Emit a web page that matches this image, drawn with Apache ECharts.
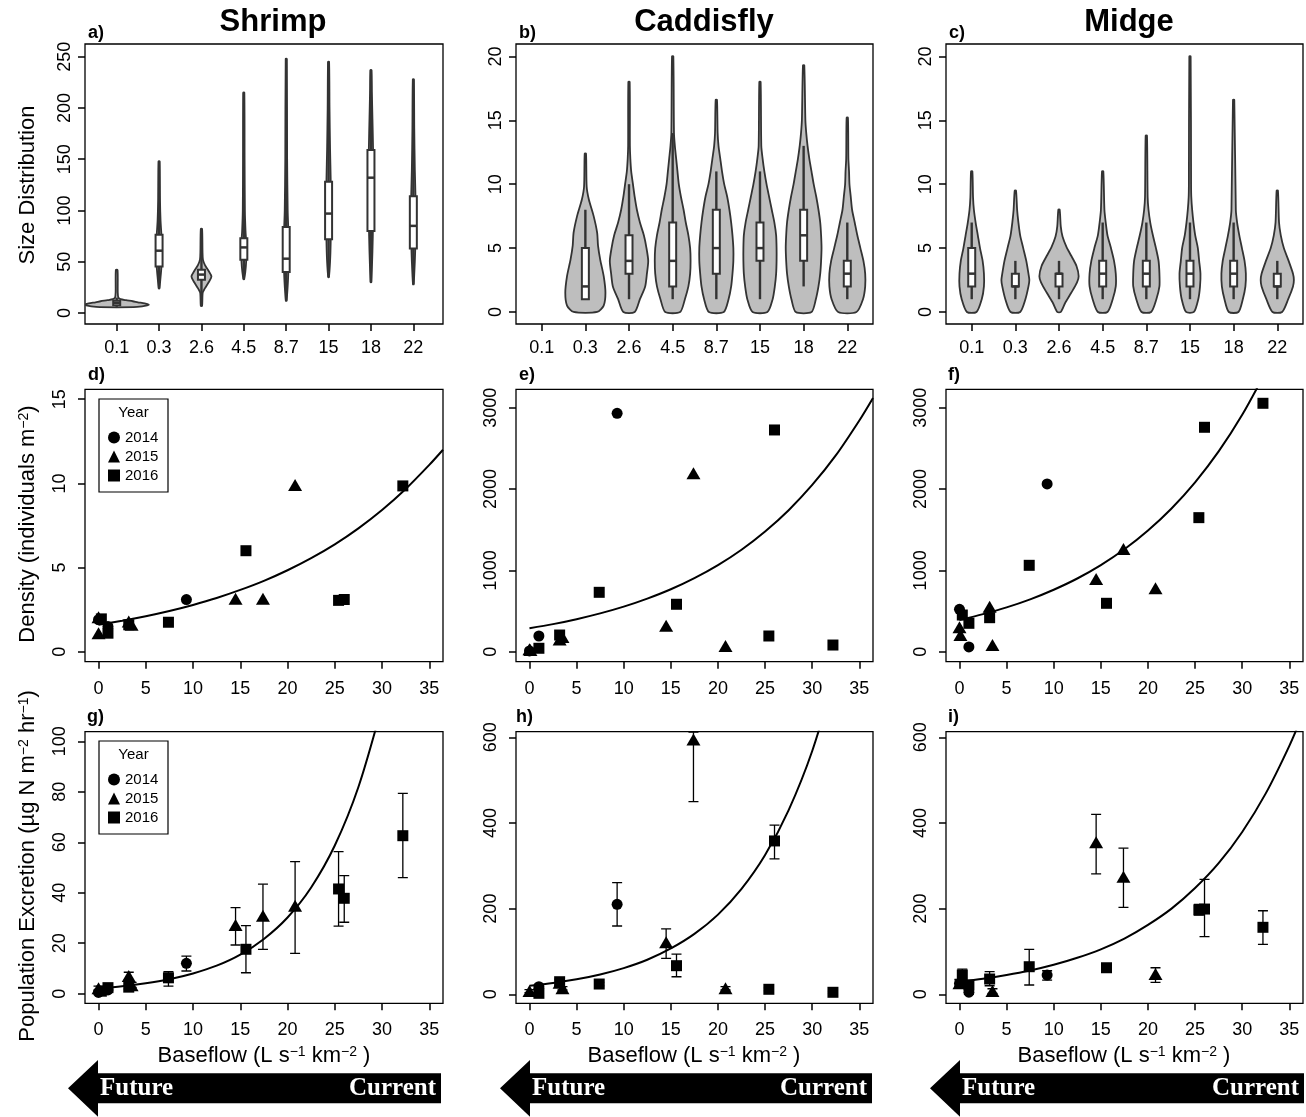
<!DOCTYPE html>
<html><head><meta charset="utf-8">
<script src="https://cdn.jsdelivr.net/npm/echarts@6/dist/echarts.min.js"></script>
<style>html,body{margin:0;padding:0;background:#fff}#c{width:1306px;height:1117px}</style>
</head><body><div id="c"></div>
<script>
// ---------------- DATA ----------------
const sizeClasses = ['0.1','0.3','2.6','4.5','8.7','15','18','22'];
const baseflowTicks = [0,5,10,15,20,25,30,35];

// violin outlines: [value, half-width in category units], bottom -> top
const shrimpShapes = [
  [[5.7,0.40],[6.5,0.60],[7.5,0.72],[8.2,0.755],[9.4,0.66],[10.5,0.5],[11.5,0.38],[12.5,0.22],[13.5,0.09],[15,0.04],[20,0.025],[42,0.02]],
  [[24,0.008],[35,0.035],[45,0.055],[60,0.06],[76,0.055],[90,0.035],[110,0.022],[148,0.012]],
  [[7,0.015],[20,0.03],[24,0.08],[30,0.17],[35.7,0.236],[41,0.17],[47,0.08],[52,0.035],[60,0.025],[82,0.015]],
  [[33,0.008],[40,0.035],[50,0.055],[60,0.06],[70,0.055],[80,0.04],[100,0.025],[150,0.018],[215,0.012]],
  [[12,0.008],[20,0.025],[30,0.04],[40,0.05],[55,0.058],[80,0.05],[100,0.035],[150,0.022],[248,0.012]],
  [[35,0.008],[50,0.035],[70,0.05],[100,0.058],[130,0.05],[160,0.035],[200,0.022],[245,0.012]],
  [[30,0.008],[60,0.035],[90,0.05],[130,0.058],[160,0.05],[190,0.035],[215,0.022],[237,0.012]],
  [[28,0.008],[50,0.035],[70,0.05],[90,0.058],[115,0.05],[140,0.035],[180,0.022],[228,0.012]]
];
// [whisker low, q1, median, q3, whisker high]
const shrimpBoxes = [[6,7.5,10,12,15],[24,45.5,60.8,76.4,148],[7,32.5,37.5,42.2,82],[33,52,64,73,215],
  [12,40,53,84,248],[35,72,97,128,245],[30,80,132,159,237],[28,63,85,114,228]];

const caddisShapes = [
  null,
  [[0,0.27],[0.5,0.42],[1.5,0.46],[2.8,0.42],[4.1,0.34],[5.2,0.29],[6.2,0.27],[7.5,0.19],[8.8,0.08],[9.8,0.03],[12.4,0.015]],
  [[0,0.13],[1,0.25],[2,0.37],[3,0.41],[4,0.44],[5,0.40],[6,0.34],[7,0.25],[8,0.18],[9,0.13],[10,0.09],[11,0.05],[12,0.03],[13,0.02],[18,0.015]],
  [[0,0.17],[1,0.28],[2,0.36],[3,0.40],[4,0.41],[5,0.40],[6,0.36],[7,0.30],[8,0.25],[9,0.19],[10,0.14],[11,0.11],[12,0.08],[13,0.05],[14,0.03],[20,0.015]],
  [[0,0.17],[1,0.28],[2,0.34],[3,0.37],[4,0.39],[5,0.39],[6,0.37],[7,0.34],[8,0.30],[9,0.25],[10,0.18],[11,0.13],[12,0.09],[13,0.05],[14,0.03],[16.6,0.015]],
  [[0,0.17],[1,0.29],[2,0.34],[3,0.37],[4,0.38],[5,0.38],[6,0.37],[7,0.33],[8,0.27],[9,0.21],[10,0.15],[11,0.10],[12,0.06],[13,0.03],[18,0.015]],
  [[0,0.18],[1,0.28],[2,0.34],[3,0.38],[4,0.40],[5,0.41],[6,0.40],[7,0.38],[8,0.34],[9,0.29],[10,0.23],[11,0.18],[12,0.13],[13,0.09],[14,0.06],[15,0.04],[19.3,0.015]],
  [[0,0.21],[1,0.36],[2,0.41],[3,0.41],[4,0.37],[5,0.30],[6,0.23],[7,0.17],[8,0.11],[9,0.08],[10,0.05],[11,0.04],[12,0.025],[15.2,0.015]]
];
const caddisBoxes = [null,[1,1,2,5,8],[1,3,4,6,10],[1,2,4,7,14],[1,3,5,8,11],[1,4,5,7,11],[2,4,6,8,13],[1,2,3,4,7]];

const midgeShapes = [
  [[0,0.11],[1,0.23],[2,0.28],[3,0.28],[4,0.25],[5,0.19],[6,0.14],[7,0.09],[8,0.05],[9,0.03],[11,0.015]],
  [[0,0.11],[1,0.23],[2,0.30],[2.5,0.32],[3,0.30],[4,0.25],[5,0.18],[6,0.11],[7,0.07],[8,0.04],[9.5,0.015]],
  [[0,0.04],[0.7,0.14],[1.5,0.28],[2.3,0.41],[2.8,0.45],[3.6,0.40],[4.4,0.28],[5.1,0.17],[5.9,0.08],[6.7,0.04],[8,0.015]],
  [[0,0.11],[1,0.23],[2,0.30],[3,0.30],[4,0.26],[5,0.19],[6,0.11],[7,0.07],[8,0.04],[11,0.015]],
  [[0,0.11],[1,0.23],[2,0.30],[3,0.30],[4,0.28],[5,0.22],[6,0.15],[7,0.09],[8,0.05],[9,0.03],[13.8,0.015]],
  [[0,0.09],[1,0.19],[2,0.23],[3,0.24],[4,0.21],[5,0.18],[6,0.12],[7,0.08],[8,0.05],[9,0.03],[10,0.025],[20,0.015]],
  [[0,0.11],[1,0.21],[2,0.27],[3,0.28],[4,0.25],[5,0.19],[6,0.13],[7,0.08],[8,0.05],[16.6,0.015]],
  [[0,0.11],[1,0.25],[2,0.36],[2.5,0.38],[3,0.36],[4,0.26],[5,0.15],[6,0.08],[7,0.04],[9.5,0.015]]
];
const midgeBoxes = [[1,2,3,5,7],[1,2,2,3,4],[1,2,3,3,4],[1,2,3,4,7],[1,2,3,4,7],[1,2,3,4,7],[1,2,3,4,7],[1,2,2,3,4]];

// Density [baseflow, density]
const shrimpDens2014 = [[0,1.9],[1.0,1.5],[9.3,3.1]];
const shrimpDens2015 = [[0,2.05],[0,1.1],[3.2,1.8],[3.5,1.6],[14.5,3.15],[17.4,3.15],[20.8,9.9]];
const shrimpDens2016 = [[0.3,1.95],[1.0,1.1],[3.2,1.6],[7.4,1.75],[15.6,6.0],[25.4,3.05],[26.0,3.1],[32.2,9.85]];
const caddisDens2014 = [[0,10],[1.0,193],[9.3,2931]];
const caddisDens2015 = [[0,30],[0.1,20],[3.2,150],[3.5,180],[14.5,320],[17.4,2193],[20.8,70]];
const caddisDens2016 = [[1.0,42],[3.2,205],[7.4,730],[15.6,583],[25.4,193],[26.0,2726],[32.2,82]];
const midgeDens2014 = [[0,521],[1.0,58],[9.3,2062]];
const midgeDens2015 = [[0,300],[0.1,205],[3.2,553],[3.5,82],[14.5,894],[17.4,1263],[20.8,780]];
const midgeDens2016 = [[0.3,451],[1.0,349],[3.2,418],[7.4,1062],[15.6,595],[25.4,1648],[26.0,2759],[32.2,3054]];

// Excretion [baseflow, mean, lower, upper]
const shrimpExc2014 = [[0,0.5,0,1],[1.0,1.5,1,2],[9.3,12.05,9.0,14.9]];
const shrimpExc2015 = [[0,2.2,1.5,3],[3.2,7.0,5.5,8.5],[3.5,3.4,2.5,4.5],[14.5,27.2,19.3,34.1],[17.4,30.9,17.6,43.4],[20.8,34.8,16.0,52.3]];
const shrimpExc2016 = [[0.3,1.0,0.5,1.5],[1.0,2.4,1.5,3.3],[3.2,2.6,1.8,3.4],[7.4,6.3,3.0,8.7],[15.6,17.6,8.3,27.0],[25.4,41.5,26.8,56.3],[26.0,37.8,28.3,46.8],[32.2,62.6,46.0,79.4]];
const caddisExc2014 = [[1.0,17.7,12,23],[9.3,210,159.5,260.6]];
const caddisExc2015 = [[0,7.7,4,11],[3.2,27,20,34],[3.5,14,10,18],[14.5,121.4,84,152.5],[17.4,595,449.7,612],[20.8,14,10,18]];
const caddisExc2016 = [[1.0,2.3,0,5],[3.2,29.4,22,36],[7.4,24,20,28],[15.6,66.8,41,94],[25.4,11.7,8,15],[26.0,358,316,395],[32.2,4.7,2,7]];
const midgeExc2014 = [[0,25,15,35],[1.0,5,0,12],[9.3,45,33,55]];
const midgeExc2015 = [[0,25.7,18,33],[3.5,7.7,2,13],[14.5,355,281,420],[17.4,274.6,203,341],[20.8,47.4,28,62]];
const midgeExc2016 = [[0.3,45,30,59],[1.0,21.7,12,30],[3.2,35.7,20,53],[7.4,64.4,21.7,105],[15.6,62,54,70],[25.4,197,185,210],[26.0,199,134.5,268.5],[32.2,156.4,116.7,195]];

// Fitted exponential curves
const shrimpDensFit = [[0,1.6],[2.5,1.84],[5,2.11],[7.5,2.42],[10,2.78],[12.5,3.19],[15,3.67],[17.5,4.21],[20,4.84],[22.5,5.56],[25,6.38],[27.5,7.33],[30,8.42],[32.5,9.67],[35,11.1],[36.45,12.0]];
const caddisDensFit = [[0,288],[2.5,339],[5,400],[7.5,471],[10,554],[12.5,653],[15,768],[17.5,905],[20,1065],[22.5,1254],[25,1478],[27.5,1740],[30,2050],[32.5,2413],[35,2843],[36.45,3120]];
const midgeDensFit = [[0,390],[2.5,462],[5,545],[7.5,644],[10,762],[12.5,900],[15,1065],[17.5,1259],[20,1490],[22.5,1761],[25,2082],[27.5,2462],[30,2912],[32.5,3443]];
const shrimpExcFit = [[0,2.1],[2.5,2.93],[5,4.1],[7.5,5.72],[10,8.0],[12.5,11.1],[15,15.5],[17.5,21.7],[20,30.2],[22.5,42.1],[25,58.7],[27.5,81.9],[30,114]];
const caddisExcFit = [[0,20],[2.5,26.4],[5,34.9],[7.5,46.2],[10,61.1],[12.5,80.6],[15,107],[17.5,141],[20,186],[22.5,246],[25,325],[27.5,430],[30,568],[32.5,751]];
const midgeExcFit = [[0,29.4],[2.5,36.3],[5,45],[7.5,55.6],[10,68.8],[12.5,85.2],[15,105],[17.5,130],[20,162],[22.5,200],[25,248],[27.5,306],[30,379],[32.5,469],[35,580],[36.45,655]];

const years = ['2014','2015','2016'];

// ---------------- LAYOUT ----------------
const FONT = 'Liberation Sans, Arial, sans-serif';
const colLeft = [85, 516, 946], colWidth = [358, 357, 357];
const rowTop = [44, 389.3, 731.7], rowHeight = [280, 272.4, 271.6];

const panels = [
  {x:[0.252,8.70], y:[-10.7,262.4], yt:[0,50,100,150,200,250], cat:true},
  {x:[0.411,8.589], y:[-0.94,20.97], yt:[0,5,10,15,20], cat:true},
  {x:[0.411,8.589], y:[-0.94,20.97], yt:[0,5,10,15,20], cat:true},
  {x:[-1.43,36.45], y:[-0.594,15.59], yt:[0,5,10,15]},
  {x:[-1.43,36.45], y:[-123,3226], yt:[0,1000,2000,3000]},
  {x:[-1.43,36.45], y:[-123,3226], yt:[0,1000,2000,3000]},
  {x:[-1.43,36.45], y:[-3.8,103.8], yt:[0,20,40,60,80,100]},
  {x:[-1.43,36.45], y:[-21,613], yt:[0,200,400,600]},
  {x:[-1.43,36.45], y:[-21,613], yt:[0,200,400,600]}
];

const grids = [], xAxes = [], yAxes = [], series = [];
panels.forEach((p, i) => {
  const r = Math.floor(i / 3), c = i % 3;
  grids.push({left: colLeft[c], top: rowTop[r], width: colWidth[c], height: rowHeight[r],
    show: true, borderColor: '#000', borderWidth: 1.3, backgroundColor: 'transparent', containLabel: false});
  const xt = p.cat ? [1,2,3,4,5,6,7,8] : baseflowTicks;
  xAxes.push({type: 'value', gridIndex: i, min: p.x[0], max: p.x[1], position: 'bottom',
    axisLine: {show: false, onZero: false}, splitLine: {show: false},
    axisTick: {show: true, inside: false, length: 7, customValues: xt, lineStyle: {color: '#000', width: 1.5}},
    axisLabel: {customValues: xt, color: '#000', fontSize: 18, fontFamily: FONT, margin: r === 0 ? 15 : 18,
      formatter: p.cat ? (v => sizeClasses[Math.round(v) - 1]) : (v => String(v))}});
  yAxes.push({type: 'value', gridIndex: i, min: p.y[0], max: p.y[1], position: 'left',
    axisLine: {show: false, onZero: false}, splitLine: {show: false},
    axisTick: {show: true, inside: false, length: 7, customValues: p.yt, lineStyle: {color: '#000', width: 1.5}},
    axisLabel: {customValues: p.yt, rotate: 90, color: '#000', fontSize: 18, fontFamily: FONT,
      margin: r === 0 ? 11 : 16, formatter: v => String(v)}});
});

// violins
function violinRender(shapes, boxes) {
  return function (params, api) {
    const cat = api.value(0);
    const shape = shapes[cat - 1], st = boxes[cat - 1];
    const right = shape.map(p => api.coord([cat + p[1], p[0]]));
    const left = shape.slice().reverse().map(p => api.coord([cat - p[1], p[0]]));
    const lo = api.coord([cat, st[0]]), hi = api.coord([cat, st[4]]);
    const q1 = api.coord([cat, st[1]]), q3 = api.coord([cat, st[3]]), md = api.coord([cat, st[2]]);
    const bw = 3.5;
    return {type: 'group', children: [
      {type: 'polygon', shape: {points: right.concat(left), smooth: 0.25}, style: {fill: '#bebebe', stroke: '#333', lineWidth: 1.8}},
      {type: 'line', shape: {x1: lo[0], y1: lo[1], x2: hi[0], y2: hi[1]}, style: {stroke: '#333', lineWidth: 2.4}},
      {type: 'rect', shape: {x: q1[0] - bw, y: q3[1], width: 2 * bw, height: Math.max(q1[1] - q3[1], 1)}, style: {fill: '#fff', stroke: '#333', lineWidth: 2}},
      {type: 'line', shape: {x1: md[0] - bw, y1: md[1], x2: md[0] + bw, y2: md[1]}, style: {stroke: '#333', lineWidth: 2.5}}
    ]};
  };
}
[[shrimpShapes, shrimpBoxes], [caddisShapes, caddisBoxes], [midgeShapes, midgeBoxes]].forEach((pair, i) => {
  const data = [];
  pair[1].forEach((b, k) => { if (b) data.push([k + 1, b[2]]); });
  series.push({type: 'custom', name: 'violin' + i, xAxisIndex: i, yAxisIndex: i, data, clip: true, silent: true,
    encode: {x: 0, y: 1}, renderItem: violinRender(pair[0], pair[1])});
});

const symbols = {'2014': ['circle', 11], '2015': ['triangle', [14, 12]], '2016': ['rect', 11]};
function addPoints(gi, name, data) {
  series.push({type: 'scatter', name, xAxisIndex: gi, yAxisIndex: gi, data: data.map(d => [d[0], d[1]]),
    symbol: symbols[name][0], symbolSize: symbols[name][1], itemStyle: {color: '#000', opacity: 1}, z: 5, silent: true});
}
function errRender(params, api) {
  const x = api.value(0);
  const a = api.coord([x, api.value(2)]), b = api.coord([x, api.value(3)]);
  const cw = 5, st = {stroke: '#000', lineWidth: 1.3};
  return {type: 'group', children: [
    {type: 'line', shape: {x1: a[0], y1: a[1], x2: b[0], y2: b[1]}, style: st},
    {type: 'line', shape: {x1: a[0] - cw, y1: a[1], x2: a[0] + cw, y2: a[1]}, style: st},
    {type: 'line', shape: {x1: b[0] - cw, y1: b[1], x2: b[0] + cw, y2: b[1]}, style: st}
  ]};
}
function addErr(gi, data) {
  series.push({type: 'custom', name: 'se', xAxisIndex: gi, yAxisIndex: gi, data, clip: true, silent: true,
    encode: {x: 0, y: 1}, renderItem: errRender, z: 3});
}
function addFit(gi, data) {
  series.push({type: 'line', name: 'fit', xAxisIndex: gi, yAxisIndex: gi, data, smooth: 0.3, showSymbol: false,
    clip: true, silent: true, lineStyle: {color: '#000', width: 2}, z: 4});
}

const dens = [[shrimpDens2014, shrimpDens2015, shrimpDens2016], [caddisDens2014, caddisDens2015, caddisDens2016], [midgeDens2014, midgeDens2015, midgeDens2016]];
const exc = [[shrimpExc2014, shrimpExc2015, shrimpExc2016], [caddisExc2014, caddisExc2015, caddisExc2016], [midgeExc2014, midgeExc2015, midgeExc2016]];
const densFits = [shrimpDensFit, caddisDensFit, midgeDensFit];
const excFits = [shrimpExcFit, caddisExcFit, midgeExcFit];
for (let c = 0; c < 3; c++) {
  addFit(3 + c, densFits[c]);
  years.forEach((y, k) => addPoints(3 + c, y, dens[c][k]));
  addFit(6 + c, excFits[c]);
  years.forEach((y, k) => { addErr(6 + c, exc[c][k]); addPoints(6 + c, y, exc[c][k]); });
}

// ---------------- TEXT / GRAPHICS ----------------
function txt(x, y, text, font, extra) {
  const el = {type: 'text', x, y, silent: true, z: 100,
    style: Object.assign({text, font, fill: '#000', textAlign: 'center', textVerticalAlign: 'middle'}, (extra && extra.style) || {})};
  if (extra && extra.rotation) el.rotation = extra.rotation;
  return el;
}
const supRich = {sup: {fontSize: 14, fontFamily: FONT, verticalAlign: 'top', fill: '#000'},
                 n: {fontSize: 22, fontFamily: FONT, fill: '#000'}};
const graphics = [];
[['Shrimp', 273], ['Caddisfly', 704], ['Midge', 1129]].forEach(t => graphics.push(txt(t[1], 22, t[0], 'bold 31px ' + FONT)));
[['a)', 88, 33], ['b)', 519, 33], ['c)', 949, 33], ['d)', 88, 375], ['e)', 519, 375], ['f)', 948, 375], ['g)', 87, 717], ['h)', 516, 717], ['i)', 948, 717]]
  .forEach(t => graphics.push(txt(t[1], t[2], t[0], 'bold 18px ' + FONT, {style: {textAlign: 'left'}})));
graphics.push(txt(28, 185, 'Size Distribution', '22px ' + FONT, {rotation: Math.PI / 2}));
graphics.push(txt(28, 524, '{n|Density (individuals m}{sup|−2}{n|)}', '22px ' + FONT, {rotation: Math.PI / 2, style: {rich: supRich}}));
graphics.push(txt(28, 866, '{n|Population Excretion (µg N m}{sup|−2}{n| hr}{sup|−1}{n|)}', '22px ' + FONT, {rotation: Math.PI / 2, style: {rich: supRich}}));
[264, 694, 1124].forEach(x => graphics.push(txt(x, 1056, '{n|Baseflow (L s}{sup|−1}{n| km}{sup|−2}{n| )}', '22px ' + FONT, {style: {rich: supRich}})));
// legend frames
[[399, 93], [741, 93]].forEach(b => {
  graphics.push({type: 'rect', shape: {x: 99, y: b[0], width: 69, height: b[1]}, style: {fill: 'none', stroke: '#000', lineWidth: 1.2}, silent: true, z: 90});
  graphics.push(txt(133.5, b[0] + 14, 'Year', '15px ' + FONT));
});
// arrows
[[68, 441], [500, 872], [930, 1304]].forEach(a => {
  const tip = a[0], back = a[0] + 30, end = a[1];
  graphics.push({type: 'polygon', silent: true, z: 90,
    shape: {points: [[tip, 1088.3], [back, 1060], [back, 1073.3], [end, 1073.3], [end, 1103.3], [back, 1103.3], [back, 1116.7]]},
    style: {fill: '#000'}});
  graphics.push(txt(back + 2, 1089, 'Future', 'bold 25px Liberation Serif, serif', {style: {fill: '#fff', textAlign: 'left'}}));
  graphics.push(txt(end - 5, 1089, 'Current', 'bold 25px Liberation Serif, serif', {style: {fill: '#fff', textAlign: 'right'}}));
});

const legendBase = {data: years, orient: 'vertical', left: 108, itemWidth: 12, itemHeight: 12, itemGap: 4,
  selectedMode: false, textStyle: {fontSize: 15, color: '#000', fontFamily: FONT}, padding: 0};

const option = {
  animation: false,
  textStyle: {fontFamily: FONT},
  grid: grids, xAxis: xAxes, yAxis: yAxes, series,
  legend: [Object.assign({top: 430}, legendBase), Object.assign({top: 772}, legendBase)],
  graphic: graphics
};
const chart = echarts.init(document.getElementById('c'), null, {renderer: 'canvas'});
chart.setOption(option);
</script></body></html>
